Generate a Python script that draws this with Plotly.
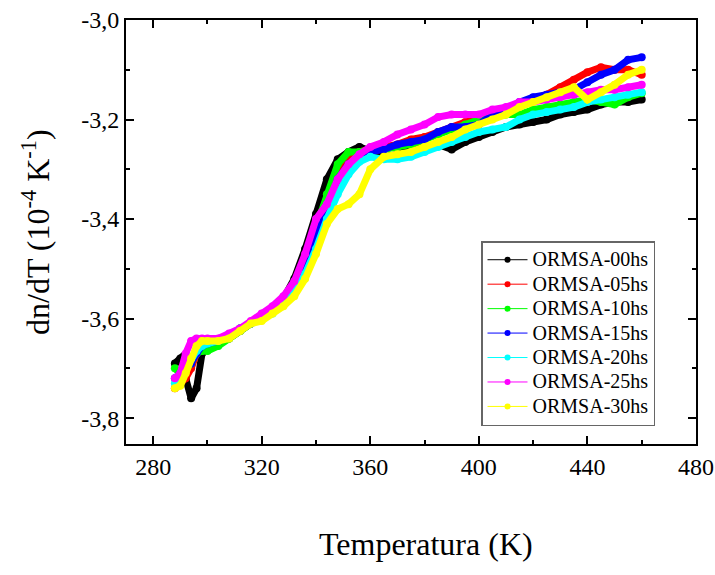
import plotly.graph_objects as go

# temperature grid (K)
temp = [288, 290, 292, 294, 296, 298, 300, 304, 308, 312, 316, 320, 324, 328, 332, 336,
        340, 344, 348, 352, 356, 360, 365, 370, 375, 380, 385, 390, 395, 400, 405, 410,
        415, 420, 425, 430, 435, 440, 445, 450, 455, 460]

# dn/dT (10^-4 K^-1)
ormsa_00 = [-3.69, -3.68, -3.72, -3.76, -3.74, -3.67, -3.655, -3.645, -3.64, -3.625, -3.61,
            -3.60, -3.585, -3.56, -3.52, -3.46, -3.39, -3.32, -3.28, -3.265, -3.255, -3.265,
            -3.275, -3.27, -3.26, -3.255, -3.25, -3.26, -3.245, -3.235, -3.225, -3.215,
            -3.21, -3.205, -3.20, -3.19, -3.185, -3.18, -3.17, -3.165, -3.165, -3.16]
ormsa_05 = [-3.74, -3.73, -3.72, -3.70, -3.67, -3.655, -3.65, -3.645, -3.635, -3.62, -3.61,
            -3.60, -3.585, -3.565, -3.535, -3.49, -3.43, -3.37, -3.31, -3.28, -3.265, -3.26,
            -3.255, -3.25, -3.24, -3.235, -3.225, -3.215, -3.205, -3.195, -3.185, -3.18,
            -3.17, -3.16, -3.15, -3.135, -3.12, -3.105, -3.095, -3.10, -3.10, -3.11]
ormsa_10 = [-3.70, -3.71, -3.70, -3.69, -3.67, -3.665, -3.665, -3.655, -3.64, -3.625, -3.61,
            -3.60, -3.585, -3.565, -3.53, -3.48, -3.42, -3.35, -3.29, -3.265, -3.265, -3.26,
            -3.26, -3.255, -3.25, -3.24, -3.23, -3.22, -3.21, -3.20, -3.195, -3.19,
            -3.19, -3.18, -3.175, -3.17, -3.165, -3.16, -3.165, -3.17, -3.155, -3.147]
ormsa_15 = [-3.72, -3.71, -3.70, -3.69, -3.67, -3.655, -3.65, -3.645, -3.635, -3.62, -3.61,
            -3.60, -3.585, -3.565, -3.54, -3.50, -3.44, -3.38, -3.32, -3.29, -3.275, -3.265,
            -3.26, -3.25, -3.245, -3.24, -3.225, -3.215, -3.215, -3.21, -3.19, -3.18,
            -3.165, -3.155, -3.15, -3.145, -3.14, -3.125, -3.11, -3.10, -3.08, -3.075]
ormsa_20 = [-3.73, -3.72, -3.70, -3.68, -3.665, -3.655, -3.65, -3.645, -3.635, -3.62, -3.61,
            -3.60, -3.59, -3.57, -3.545, -3.51, -3.46, -3.40, -3.35, -3.31, -3.285, -3.275,
            -3.28, -3.28, -3.275, -3.265, -3.255, -3.245, -3.235, -3.225, -3.22, -3.215,
            -3.20, -3.19, -3.185, -3.18, -3.175, -3.165, -3.16, -3.155, -3.15, -3.145]
ormsa_25 = [-3.72, -3.71, -3.67, -3.645, -3.64, -3.64, -3.64, -3.64, -3.63, -3.62, -3.605,
            -3.59, -3.575, -3.555, -3.525, -3.47, -3.40, -3.37, -3.32, -3.29, -3.27, -3.255,
            -3.245, -3.23, -3.22, -3.21, -3.195, -3.19, -3.19, -3.19, -3.18, -3.175,
            -3.165, -3.165, -3.16, -3.155, -3.15, -3.145, -3.14, -3.14, -3.135, -3.13]
ormsa_30 = [-3.74, -3.735, -3.71, -3.68, -3.655, -3.645, -3.645, -3.645, -3.64, -3.625, -3.61,
            -3.605, -3.59, -3.575, -3.555, -3.52, -3.47, -3.41, -3.38, -3.37, -3.35, -3.30,
            -3.275, -3.27, -3.265, -3.255, -3.245, -3.235, -3.22, -3.21, -3.20, -3.19,
            -3.175, -3.165, -3.155, -3.145, -3.135, -3.16, -3.145, -3.13, -3.11, -3.10]

names = ['ORMSA-00hs', 'ORMSA-05hs', 'ORMSA-10hs', 'ORMSA-15hs',
         'ORMSA-20hs', 'ORMSA-25hs', 'ORMSA-30hs']
series = [ormsa_00, ormsa_05, ormsa_10, ormsa_15, ormsa_20, ormsa_25, ormsa_30]
colors = ['#000000', '#ff0000', '#00ff00', '#0000ff', '#00ffff', '#ff00ff', '#ffff00']

x_ticks = [280, 320, 360, 400, 440, 480]
y_ticks = [-3.8, -3.6, -3.4, -3.2, -3.0]
y_labels = ['-3,8', '-3,6', '-3,4', '-3,2', '-3,0']

font = 'Liberation Serif'

fig = go.Figure()

for name, vals, col in zip(names, series, colors):
    # thick band of dense dots
    fig.add_trace(go.Scatter(
        x=temp, y=vals, mode='lines+markers', showlegend=False,
        line=dict(color=col, width=7),
        marker=dict(color=col, size=8),
    ))
    # legend entry (bigger text, tighter rows)
    fig.add_trace(go.Scatter(
        x=[None], y=[None], mode='lines+markers',
        name='<span style="font-size:20px">%s</span>' % name,
        line=dict(color=col, width=1),
        marker=dict(color=col, size=6),
    ))

axis_common = dict(
    showline=True, linecolor='black', linewidth=2, mirror='ticks',
    ticks='inside', ticklen=8, tickwidth=1.5, tickcolor='black',
    showgrid=False, zeroline=False, automargin=False,
    tickfont=dict(family=font, size=24, color='black'),
)

fig.update_xaxes(range=[270, 480], tickvals=x_ticks,
                 minor=dict(ticks='inside', ticklen=4, dtick=20, tick0=280,
                            tickcolor='black', tickwidth=1.5),
                 **axis_common)
fig.update_yaxes(range=[-3.852, -3.0], tickvals=y_ticks, ticktext=y_labels,
                 minor=dict(ticks='inside', ticklen=4, dtick=0.1, tick0=-3.0,
                            tickcolor='black', tickwidth=1.5),
                 **axis_common)

fig.add_annotation(text='Temperatura (K)', xref='paper', yref='paper',
                   x=(426 - 126) / 570, y=-(544 - 444) / 424, showarrow=False,
                   xanchor='center', yanchor='middle',
                   font=dict(family=font, size=32, color='black'))
fig.add_annotation(text='dn/dT (10<sup>-4</sup> K<sup>-1</sup>)', xref='paper', yref='paper',
                   x=-(126 - 36) / 570, y=(444 - 232) / 424, textangle=-90, showarrow=False,
                   xanchor='center', yanchor='middle',
                   font=dict(family=font, size=32, color='black'))

fig.update_layout(
    width=715, height=575,
    margin=dict(l=126, r=19, t=20, b=131),
    paper_bgcolor='white', plot_bgcolor='white',
    legend=dict(x=(481 - 126) / 570, y=(444 - 241) / 424, xanchor='left', yanchor='top',
                bordercolor='#666666', borderwidth=1.5, bgcolor='white',
                font=dict(family=font, size=16.5, color='black'),
                tracegroupgap=0, itemwidth=40),
)

# drop the default page margin so the figure sits at the window's corner
fig.write_html("out.html", config={'displayModeBar': False},
               post_script="document.body.style.margin='0';")
